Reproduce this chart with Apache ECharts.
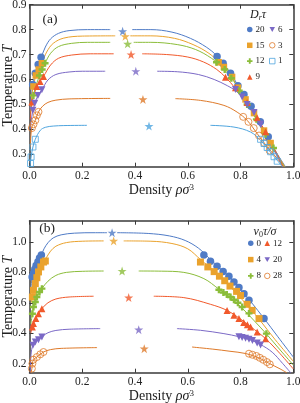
<!DOCTYPE html>
<html><head><meta charset="utf-8">
<script src="https://cdn.jsdelivr.net/npm/echarts@6/dist/echarts.min.js"></script>
<style>html,body{margin:0;padding:0;background:#fff}#c{width:300px;height:403px}</style>
</head><body><div id="c"></div>
<script>
const xTicks = [0, 0.2, 0.4, 0.6, 0.8, 1.0];
const aYTicks = [0.3, 0.4, 0.5, 0.6, 0.7, 0.8, 0.9];
const bYTicks = [0.2, 0.4, 0.6, 0.8, 1.0];

// Panel (a): D_r tau
const aNames = ['20', '15', '12', '9', '6', '3', '1'];
const aCrit = [[0.353,0.793],[0.363,0.773],[0.372,0.743],[0.385,0.70],[0.403,0.633],[0.43,0.52],[0.453,0.413]];
const aGasLines = [
  [[0.004,0.50],[0.01,0.56],[0.022,0.625],[0.033,0.66],[0.045,0.69],[0.06,0.73],[0.08,0.763],[0.11,0.785],[0.15,0.796],[0.22,0.80],[0.306,0.80]],
  [[0.004,0.49],[0.012,0.56],[0.024,0.615],[0.035,0.64],[0.047,0.665],[0.065,0.71],[0.09,0.745],[0.13,0.766],[0.2,0.774],[0.325,0.775]],
  [[0.004,0.47],[0.015,0.54],[0.038,0.616],[0.059,0.665],[0.08,0.705],[0.11,0.732],[0.16,0.745],[0.22,0.749],[0.306,0.749]],
  [[0.003,0.44],[0.009,0.5],[0.028,0.572],[0.053,0.612],[0.08,0.658],[0.11,0.685],[0.16,0.698],[0.23,0.703],[0.319,0.703]],
  [[0.003,0.40],[0.013,0.476],[0.032,0.536],[0.047,0.559],[0.07,0.598],[0.1,0.62],[0.15,0.63],[0.2,0.633],[0.287,0.633]],
  [[0.003,0.33],[0.009,0.409],[0.022,0.436],[0.034,0.47],[0.05,0.493],[0.07,0.508],[0.1,0.517],[0.15,0.522],[0.306,0.524]],
  [[0.002,0.25],[0.006,0.289],[0.013,0.329],[0.022,0.36],[0.041,0.396],[0.06,0.408],[0.09,0.413],[0.13,0.415],[0.218,0.416]]
];
const aGasPts = [
  [[0.044,0.689],[0.033,0.66],[0.022,0.625],[0.012,0.58]],
  [[0.047,0.665],[0.035,0.64],[0.024,0.616],[0.015,0.572]],
  [[0.059,0.665],[0.048,0.64],[0.038,0.616],[0.015,0.536]],
  [[0.053,0.612],[0.04,0.592],[0.028,0.572],[0.009,0.51]],
  [[0.047,0.559],[0.032,0.536],[0.02,0.505],[0.013,0.476]],
  [[0.034,0.47],[0.028,0.456],[0.022,0.436],[0.015,0.42],[0.009,0.405]],
  [[0.022,0.36],[0.013,0.329],[0.006,0.289],[0.004,0.263]]
];
const aLiqLines = [
  [[0.389,0.80],[0.46,0.80],[0.54,0.79],[0.61,0.765],[0.67,0.73],[0.71,0.695],[0.75,0.643],[0.79,0.577],[0.83,0.505],[0.87,0.432],[0.905,0.365],[0.94,0.3],[0.97,0.25]],
  [[0.382,0.775],[0.46,0.775],[0.55,0.765],[0.62,0.74],[0.68,0.705],[0.72,0.667],[0.76,0.618],[0.79,0.57],[0.83,0.497],[0.87,0.425],[0.905,0.36],[0.94,0.297],[0.968,0.25]],
  [[0.395,0.749],[0.46,0.749],[0.56,0.74],[0.63,0.72],[0.69,0.685],[0.73,0.648],[0.77,0.6],[0.80,0.55],[0.83,0.495],[0.87,0.42],[0.905,0.357],[0.94,0.293],[0.966,0.25]],
  [[0.427,0.703],[0.52,0.70],[0.6,0.69],[0.66,0.67],[0.71,0.64],[0.743,0.609],[0.78,0.565],[0.825,0.505],[0.863,0.445],[0.895,0.39],[0.93,0.318],[0.962,0.25]],
  [[0.484,0.633],[0.56,0.631],[0.64,0.62],[0.7,0.6],[0.75,0.575],[0.781,0.555],[0.81,0.525],[0.85,0.468],[0.88,0.41],[0.91,0.35],[0.94,0.29],[0.96,0.25]],
  [[0.553,0.523],[0.648,0.516],[0.737,0.496],[0.787,0.469],[0.825,0.436],[0.863,0.383],[0.901,0.33],[0.939,0.283],[0.962,0.25]],
  [[0.686,0.416],[0.775,0.409],[0.838,0.389],[0.876,0.356],[0.907,0.316],[0.939,0.276],[0.958,0.25]]
];
const aLiqPts = [
  [[0.711,0.692],[0.734,0.665],[0.762,0.625],[0.79,0.575],[0.813,0.54],[0.84,0.493],[0.875,0.43],[0.905,0.37]],
  [[0.717,0.669],[0.737,0.65],[0.768,0.61],[0.79,0.567],[0.819,0.52],[0.851,0.465],[0.889,0.395],[0.914,0.345]],
  [[0.709,0.669],[0.74,0.64],[0.765,0.605],[0.795,0.555],[0.825,0.5],[0.86,0.44],[0.895,0.38],[0.925,0.325]],
  [[0.743,0.609],[0.781,0.567],[0.825,0.508],[0.863,0.446],[0.895,0.39]],
  [[0.781,0.56],[0.806,0.53],[0.825,0.5],[0.851,0.467],[0.876,0.42]],
  [[0.81,0.45],[0.83,0.43],[0.85,0.405],[0.87,0.375],[0.89,0.345],[0.91,0.315]],
  [[0.876,0.36],[0.889,0.343],[0.901,0.327],[0.914,0.31],[0.927,0.29],[0.939,0.272]]
];

// Panel (b): v0 tau / sigma
const bNames = ['0', '4', '8', '12', '20', '28'];
const bCrit = [[0.313,1.061],[0.319,1.007],[0.351,0.809],[0.376,0.634],[0.414,0.423],[0.435,0.298]];
const bGasLines = [
  [[0.006,0.70],[0.01,0.77],[0.02,0.82],[0.032,0.87],[0.045,0.915],[0.055,0.955],[0.07,0.995],[0.09,1.027],[0.12,1.047],[0.17,1.058],[0.25,1.061],[0.294,1.061]],
  [[0.006,0.6],[0.011,0.638],[0.015,0.682],[0.022,0.726],[0.028,0.765],[0.043,0.836],[0.053,0.868],[0.065,0.9],[0.08,0.94],[0.1,0.972],[0.14,0.996],[0.2,1.005],[0.281,1.007]],
  [[0.005,0.46],[0.011,0.528],[0.015,0.572],[0.022,0.605],[0.028,0.638],[0.047,0.693],[0.07,0.742],[0.1,0.78],[0.14,0.8],[0.2,0.807],[0.281,0.809]],
  [[0.005,0.40],[0.011,0.441],[0.015,0.463],[0.024,0.496],[0.034,0.528],[0.05,0.567],[0.07,0.6],[0.1,0.625],[0.15,0.638],[0.243,0.643]],
  [[0.003,0.14],[0.006,0.26],[0.013,0.32],[0.034,0.357],[0.05,0.38],[0.07,0.403],[0.1,0.418],[0.15,0.426],[0.268,0.43]],
  [[0.006,0.14],[0.009,0.167],[0.011,0.2],[0.015,0.226],[0.028,0.243],[0.053,0.276],[0.08,0.292],[0.12,0.3],[0.256,0.305]]
];
const bGasPts = [
  [[0.045,0.915],[0.038,0.895],[0.032,0.87],[0.025,0.845],[0.02,0.82],[0.015,0.795],[0.01,0.77]],
  [[0.06,0.875],[0.053,0.868],[0.043,0.836],[0.034,0.803],[0.028,0.765],[0.022,0.726],[0.015,0.682],[0.011,0.638]],
  [[0.047,0.693],[0.038,0.671],[0.028,0.638],[0.022,0.605],[0.015,0.572],[0.011,0.528]],
  [[0.047,0.561],[0.034,0.528],[0.024,0.496],[0.015,0.463],[0.011,0.441]],
  [[0.047,0.375],[0.034,0.357],[0.022,0.342],[0.013,0.32]],
  [[0.053,0.276],[0.041,0.261],[0.028,0.243],[0.015,0.226],[0.011,0.2],[0.009,0.167]]
];
const bLiqLines = [
  [[0.332,1.061],[0.45,1.056],[0.53,1.04],[0.59,1.01],[0.64,0.96],[0.68,0.895],[0.72,0.83],[0.76,0.765],[0.8,0.69],[0.84,0.605],[0.89,0.495],[0.94,0.38],[1.0,0.243]],
  [[0.357,1.007],[0.46,1.005],[0.54,0.99],[0.6,0.955],[0.648,0.885],[0.68,0.838],[0.72,0.78],[0.76,0.707],[0.8,0.633],[0.84,0.555],[0.87,0.493],[0.93,0.36],[1.0,0.215]],
  [[0.414,0.809],[0.5,0.808],[0.585,0.8],[0.661,0.759],[0.718,0.69],[0.762,0.635],[0.806,0.565],[0.85,0.485],[0.898,0.395],[0.95,0.29],[1.0,0.19]],
  [[0.471,0.643],[0.585,0.634],[0.686,0.59],[0.749,0.55],[0.794,0.5],[0.838,0.443],[0.895,0.364],[0.95,0.265],[1.0,0.165]],
  [[0.559,0.43],[0.648,0.419],[0.737,0.397],[0.794,0.377],[0.838,0.355],[0.876,0.325],[0.92,0.275],[0.96,0.2],[0.99,0.14]],
  [[0.616,0.309],[0.695,0.295],[0.76,0.281],[0.82,0.266],[0.87,0.237],[0.91,0.2],[0.95,0.165],[0.975,0.14]]
];
const bLiqPts = [
  [[0.661,0.915],[0.686,0.873],[0.711,0.84],[0.734,0.805],[0.756,0.774],[0.775,0.737],[0.794,0.70],[0.813,0.66],[0.832,0.616],[0.889,0.496]],
  [[0.648,0.868],[0.676,0.836],[0.7,0.805],[0.72,0.775],[0.74,0.745],[0.76,0.71],[0.785,0.675],[0.8,0.648],[0.825,0.59],[0.844,0.55],[0.87,0.496]],
  [[0.718,0.686],[0.735,0.668],[0.748,0.655],[0.762,0.638],[0.775,0.62],[0.79,0.6],[0.806,0.572],[0.832,0.53],[0.898,0.397]],
  [[0.749,0.55],[0.775,0.518],[0.794,0.496],[0.812,0.47],[0.826,0.455],[0.838,0.441],[0.863,0.408],[0.895,0.364]],
  [[0.794,0.377],[0.806,0.372],[0.819,0.366],[0.832,0.36],[0.845,0.352],[0.863,0.336],[0.876,0.322]],
  [[0.832,0.265],[0.845,0.258],[0.86,0.25],[0.873,0.238],[0.886,0.225],[0.9,0.21],[0.911,0.195]]
];

// ---- styling ----
const FONT = '"Liberation Serif", "DejaVu Serif", serif';
const C = {blue:'#4f7bc6', gold:'#eaa22c', green:'#8bbd3a', red:'#f1592b', purple:'#7b69c6', orange:'#de7a2a', sky:'#4fa5de'};
const STAR = 'path://M50,0L61.8,35.5L99,35.5L69,57.5L80.5,93L50,71L19.5,93L31,57.5L1,35.5L38.2,35.5Z';
const PLUS = 'path://M33,0H67V33H100V67H67V100H33V67H0V33H33Z';
const TDOWN = 'path://M0,0L100,0L50,87Z';
const aStyle = [
  {c:C.blue, sym:'circle', size:7.5, open:false},
  {c:C.gold, sym:'rect', size:6.5, open:false},
  {c:C.green, sym:PLUS, size:7, open:false},
  {c:C.red, sym:'triangle', size:7, open:false},
  {c:C.purple, sym:TDOWN, size:7, open:false},
  {c:C.orange, sym:'circle', size:7, open:true},
  {c:C.sky, sym:'rect', size:6, open:true}
];
const bStyle = [
  {c:C.blue, sym:'circle', size:7.5, open:false},
  {c:C.gold, sym:'rect', size:7, open:false},
  {c:C.green, sym:PLUS, size:7, open:false},
  {c:C.red, sym:'triangle', size:7, open:false},
  {c:C.purple, sym:TDOWN, size:7, open:false},
  {c:C.orange, sym:'circle', size:7, open:true}
];
const AX = '#3a3a3a';

function xAx(grid, pos) {
  return {type:'value', gridIndex:grid, position:pos, min:0, max:1,
    axisLine:{show:true, onZero:false, lineStyle:{color:AX, width:1.5}},
    axisTick:{show:true, inside:true, length:4, customValues:xTicks, lineStyle:{color:AX, width:1}},
    axisLabel:{show:pos==='bottom', customValues:xTicks, margin:3, color:'#222', fontFamily:FONT, fontSize:11.5,
      formatter:v=>v.toFixed(1)},
    splitLine:{show:false},
    name: pos==='bottom' ? 'Density {i|ρσ}{sup|3}' : '',
    nameLocation:'middle', nameGap:16.5, nameMoveOverlap:false,
    nameTextStyle:{color:'#222', fontFamily:FONT, fontSize:14, verticalAlign:'top',
      rich:{i:{fontFamily:FONT, fontSize:14, fontStyle:'italic', color:'#222'},
            sup:{fontFamily:FONT, fontSize:9, color:'#222', verticalAlign:'top', lineHeight:9}}}
  };
}
function yAx(grid, pos, min, max, ticks) {
  return {type:'value', gridIndex:grid, position:pos, min:min, max:max,
    axisLine:{show:true, onZero:false, lineStyle:{color:AX, width:1.5}},
    axisTick:{show:true, inside:true, length:4, customValues:ticks, lineStyle:{color:AX, width:1}},
    axisLabel:{show:pos==='left', customValues:ticks, margin:3, color:'#222', fontFamily:FONT, fontSize:11.5,
      formatter:v=>v.toFixed(1)},
    splitLine:{show:false},
    name: pos==='left' ? 'Temperature {i|T}' : '',
    nameLocation:'middle', nameGap:14, nameRotate:90, nameMoveOverlap:false,
    nameTextStyle:{color:'#222', fontFamily:FONT, fontSize:14,
      rich:{i:{fontFamily:FONT, fontSize:14, fontStyle:'italic', color:'#222'}}}
  };
}

const series = [];
function addPanel(prefix, names, styles, gasL, liqL, gasP, liqP, crit, xi, yi) {
  names.forEach((n, i) => {
    const st = styles[i];
    [gasL[i], liqL[i]].forEach((ln, k) => {
      series.push({type:'line', name:prefix+n+'_line'+k, xAxisIndex:xi, yAxisIndex:yi, data:ln,
        smooth:0.35, showSymbol:false, symbol:'none', silent:true, z:2,
        lineStyle:{color:st.c, width:1}});
    });
  });
  names.forEach((n, i) => {
    const st = styles[i];
    series.push({type:'scatter', name:prefix+n, xAxisIndex:xi, yAxisIndex:yi,
      data: gasP[i].concat(liqP[i]), symbol:st.sym, symbolSize:st.size, z:3,
      itemStyle: st.open ? {color:'rgba(255,255,255,0)', borderColor:st.c, borderWidth:1}
                         : {color:st.c, opacity:1}});
  });
  series.push({type:'scatter', name:prefix+'crit', xAxisIndex:xi, yAxisIndex:yi, z:4,
    symbol:STAR, symbolSize:9,
    data: crit.map((p, i) => ({value:p, itemStyle:{color:styles[i].c}}))});
}
addPanel('a', aNames, aStyle, aGasLines, aLiqLines, aGasPts, aLiqPts, aCrit, 0, 0);
addPanel('b', bNames, bStyle, bGasLines, bLiqLines, bGasPts, bLiqPts, bCrit, 2, 2);

function legendItems(prefix, names, styles, idx) {
  return idx.map(i => {
    const st = styles[i];
    return {name:prefix+names[i], icon:st.sym,
      itemStyle: st.open ? {color:'#fff', borderColor:st.c, borderWidth:1} : {color:st.c, borderWidth:0}};
  });
}
function legend(data, left, top, gap) {
  return {orient:'vertical', left:left, top:top, itemWidth:5.5, itemHeight:5.5, itemGap:gap,
    padding:0, selectedMode:false, data:data, formatter:n=>n.slice(1),
    textStyle:{fontFamily:FONT, fontSize:9, color:'#222', lineHeight:12, padding:[0,0,0,-2]}};
}

const option = {
  animation:false,
  backgroundColor:'#fff',
  grid:[
    {left:29.5, top:4.7, width:263.8, height:162, outerBoundsMode:'none', containLabel:false},
    {left:29.5, top:220.7, width:263.8, height:152, outerBoundsMode:'none', containLabel:false}
  ],
  xAxis:[xAx(0,'bottom'), xAx(0,'top'), xAx(1,'bottom'), xAx(1,'top')],
  yAxis:[yAx(0,'left',0.25,0.9,aYTicks), yAx(0,'right',0.25,0.9,aYTicks),
         yAx(1,'left',0.14,1.14,bYTicks), yAx(1,'right',0.14,1.14,bYTicks)],
  legend:[
    legend(legendItems('a', aNames, aStyle, [0,1,2,3]), 247, 23.5, 3.8),
    legend(legendItems('a', aNames, aStyle, [4,5,6]), 269, 23.5, 3.8),
    legend(legendItems('b', bNames, bStyle, [0,1,2]), 248, 237.3, 4.3),
    legend(legendItems('b', bNames, bStyle, [3,4,5]), 264, 237.3, 4.3)
  ],
  graphic:[
    {type:'text', x:50, y:19, style:{text:'(a)', font:'13.5px '+FONT, fill:'#222', align:'center', verticalAlign:'middle'}},
    {type:'text', x:47, y:228, style:{text:'(b)', font:'13.5px '+FONT, fill:'#222', align:'center', verticalAlign:'middle'}},
    {type:'text', x:258, y:15, style:{text:'{i|D}{s|r}{i|τ}', fill:'#222', align:'center', verticalAlign:'middle',
      rich:{i:{fontFamily:FONT, fontSize:12, fontStyle:'italic', lineHeight:14, fill:'#222'},
            s:{fontFamily:FONT, fontSize:8, fontStyle:'italic', lineHeight:8, verticalAlign:'bottom', fill:'#222'}}}},
    {type:'text', x:265, y:232, style:{text:'{i|v}{s|0}{i|τ/σ}', fill:'#222', align:'center', verticalAlign:'middle',
      rich:{i:{fontFamily:FONT, fontSize:12, fontStyle:'italic', lineHeight:14, fill:'#222'},
            s:{fontFamily:FONT, fontSize:8, lineHeight:8, verticalAlign:'bottom', fill:'#222'}}}}
  ],
  series:series
};
const chart = echarts.init(document.getElementById('c'), null, {renderer:'canvas'});
chart.setOption(option);
</script>
</body></html>
